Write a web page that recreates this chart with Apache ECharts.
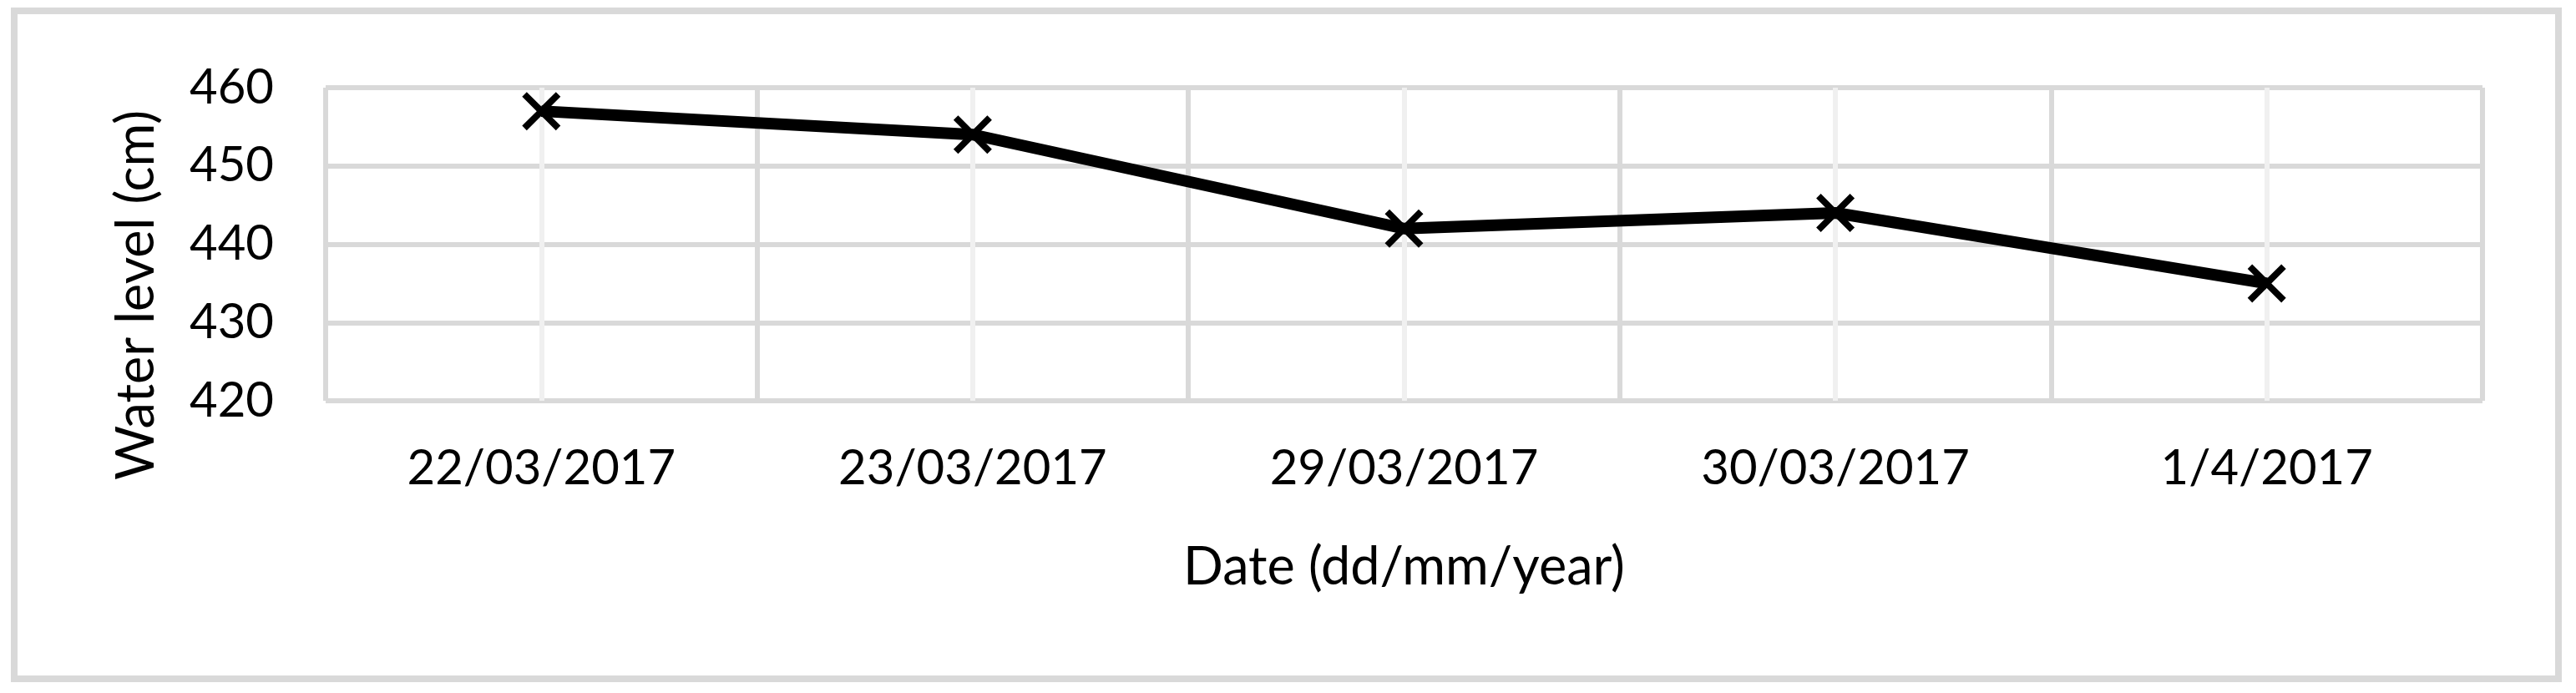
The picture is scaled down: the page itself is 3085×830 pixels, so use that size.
<!DOCTYPE html>
<html>
<head>
<meta charset="utf-8">
<title>Water level</title>
<script src="https://cdn.jsdelivr.net/npm/echarts@6/dist/echarts.min.js"></script>
<style>
    html, body{
        margin: 0;
        padding: 0;
        background: #fff;
    }
    #chart{
        width: 3085px;
        height: 830px;
    }
</style>
</head>
<body>
<div id="chart"></div>
<script type="text/javascript">
// data
var dates = ["22/03/2017", "23/03/2017", "29/03/2017", "30/03/2017", "1/4/2017"];
var waterLevel = [457, 454, 442, 444, 435];
var yMin = 420, yMax = 460, yStep = 10;

var xName = "Date (dd/mm/year)";
var yName = "Water level (cm)";

var font = "Lato, 'Open Sans', sans-serif";
var gridGray = "#d9d9d9";
var lightGray = "#f0f0f0";
// x shaped marker, like the excel "x" point
var crossPath = "path://M0,12L12,0L50,38L88,0L100,12L62,50L100,88L88,100L50,62L12,100L0,88L38,50Z";

var chart = echarts.init(document.getElementById("chart"));
chart.setOption({
    backgroundColor: "#fff",
    animation: false,
    textStyle: { fontFamily: font },
    graphic: [{
        type: "rect",
        shape: { x: 17, y: 13, width: 3047, height: 800 },
        style: { fill: "none", stroke: gridGray, lineWidth: 8 },
        z: -1
    }],
    grid: {
        left: 390,
        right: 112,
        top: 105,
        bottom: 350,
        containLabel: false
    },
    xAxis: {
        type: "category",
        data: dates,
        boundaryGap: true,
        name: xName,
        nameLocation: "middle",
        nameGap: 168,
        nameTextStyle: { color: "#000", fontSize: 63, fontFamily: font },
        axisLine: { show: false },
        axisTick: {//light lines through each point
            show: true,
            alignWithLabel: true,
            inside: true,
            length: 375,
            lineStyle: { color: lightGray, width: 6 }
        },
        axisLabel: {
            color: "#000",
            fontSize: 58,
            fontFamily: font,
            margin: 52
        },
        splitLine: {
            show: true,
            lineStyle: { color: gridGray, width: 6 }
        }
    },
    yAxis: {
        type: "value",
        min: yMin,
        max: yMax,
        interval: yStep,
        name: yName,
        nameLocation: "middle",
        nameGap: 195,
        nameTextStyle: {
            color: "#000",
            fontSize: 63,
            fontFamily: font,
            padding: [0, 122, 0, 0]//title sits lower than the plot middle
        },
        axisLine: { show: false },
        axisTick: { show: false },
        axisLabel: {
            color: "#000",
            fontSize: 58,
            fontFamily: font,
            margin: 62
        },
        splitLine: {
            show: true,
            lineStyle: { color: gridGray, width: 6 }
        }
    },
    series: [{
        type: "line",
        data: waterLevel,
        symbol: crossPath,
        symbolSize: 46,
        showAllSymbol: true,
        lineStyle: { color: "#000", width: 14 },
        itemStyle: { color: "#000" },
        z: 3
    }]
});
</script>
</body>
</html>
